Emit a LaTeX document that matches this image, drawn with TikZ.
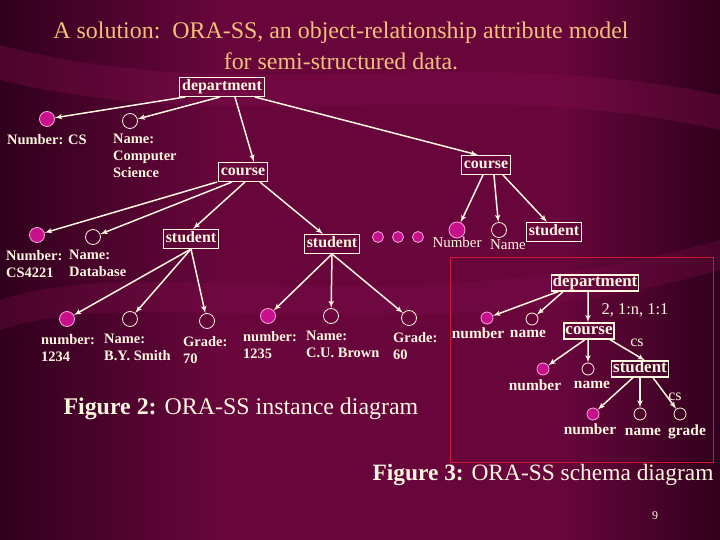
\documentclass[tikz,border=0pt]{standalone}
\usepackage{fontspec}
\setmainfont{Liberation Serif}
\usepackage{tikz}
\usetikzlibrary{arrows}
\definecolor{bgdark}{RGB}{48,0,28}
\definecolor{bgmain}{RGB}{104,6,60}
\definecolor{bgband}{RGB}{130,14,76}
\definecolor{linecol}{RGB}{255,246,224}
\definecolor{titlecol}{RGB}{242,192,122}
\definecolor{keycol}{RGB}{200,16,140}
\definecolor{pinkline}{RGB}{245,170,220}
\definecolor{framecol}{RGB}{205,25,45}

\begin{document}
\begin{tikzpicture}[x=1bp,y=-1bp]
\tikzset{box/.style = {draw=linecol,line width=1bp,inner xsep=2.5bp,inner ysep=1.5bp,text height=12bp,text depth=4bp,text=linecol,font=\bfseries\fontsize{16}{18}\selectfont}}
\tikzset{key/.style = {shape=circle,draw=pinkline,fill=keycol,line width=0.8bp,minimum size=15bp,inner sep=0pt}}
\tikzset{attr/.style = {shape=circle,draw=linecol,line width=0.8bp,minimum size=15bp,inner sep=0pt}}
\tikzset{lbl/.style = {text=linecol,inner sep=0pt,align=left,font=\bfseries\fontsize{14.5}{17}\selectfont}}
\tikzset{edge/.style = {->,> = latex',draw=linecol,line width=1.5bp}}
% background
\useasboundingbox (0,0) rectangle (720,540);
\fill[bgmain] (0,0) rectangle (720,540);
\fill[left color=bgdark,right color=bgmain] (0,0) rectangle (220,540);
\fill[left color=bgmain,right color=bgdark] (560,0) rectangle (720,540);
\fill[bgband,opacity=0.35] (0,45) .. controls (250,110) and (450,40) .. (720,95) -- (720,130) .. controls (450,70) and (250,140) .. (0,80) -- cycle;
\fill[bgband,opacity=0.3] (0,300) .. controls (150,250) and (400,330) .. (720,240) -- (720,270) .. controls (400,360) and (150,280) .. (0,330) -- cycle;
% title
\node[text=titlecol,align=center,font=\fontsize{24}{31}\selectfont] (title) at (341,46) {A solution:\ \ ORA-SS, an object-relationship attribute model\\for semi-structured data.};
% figure 2 vertices
\node[box] (dept) at (222,87) {department};
\node[key] (numCS) at (47,119) {};
\node[attr] (nameCS) at (130,121) {};
\node[lbl,anchor=west] (lnumCS) at (7,140) {Number: CS};
\node[lbl,anchor=north west] (lnameCS) at (113,134) {Name:\\Computer\\Science};
\node[box] (course1) at (243,172) {course};
\node[box] (course2) at (486,165) {course};
\node[key] (num4221) at (37,235) {};
\node[attr] (name4221) at (93,237) {};
\node[lbl,anchor=north west] (lnum4221) at (6,250) {Number:\\CS4221};
\node[lbl,anchor=north west] (lname4221) at (69,250) {Name:\\Database};
\node[box] (stud1) at (191,239) {student};
\node[box] (stud2) at (332,244) {student};
\node[key] (num1234) at (67,319) {};
\node[attr] (name1234) at (130,319) {};
\node[attr] (grade1234) at (207,321) {};
\node[lbl,anchor=north west] (lnum1234) at (41,334) {number:\\1234};
\node[lbl,anchor=north west] (lname1234) at (104,334) {Name:\\B.Y. Smith};
\node[lbl,anchor=north west] (lgrade1234) at (183,336) {Grade:\\70};
\node[key] (num1235) at (268,316) {};
\node[attr] (name1235) at (331,316) {};
\node[attr] (grade1235) at (409,318) {};
\node[lbl,anchor=north west] (lnum1235) at (243,331) {number:\\1235};
\node[lbl,anchor=north west] (lname1235) at (306,331) {Name:\\C.U. Brown};
\node[lbl,anchor=north west] (lgrade1235) at (393,332) {Grade:\\60};
\foreach \i/\x in {1/378,2/398,3/418}
  \node[key,minimum size=11bp] (dot\i) at (\x,237) {};
\node[key,minimum size=16bp] (numC2) at (457,230) {};
\node[attr] (nameC2) at (499,230) {};
\node[lbl,font=\fontsize{15}{17}\selectfont,anchor=north] (lnumC2) at (457,237) {Number};
\node[lbl,font=\fontsize{15}{17}\selectfont,anchor=north] (lnameC2) at (508,240) {Name};
\node[box] (stud3) at (554,232) {student};
\node[text=linecol,anchor=west,font=\fontsize{24}{28}\selectfont] (cap2) at (60,409) {\textbf{Figure 2:} ORA-SS instance diagram};
% figure 2 edges
\draw[edge] ([xshift=-37]dept.south) to (numCS);
\draw[edge] ([xshift=-2]dept.south) to (nameCS);
\draw[edge] ([xshift=13]dept.south) to ([xshift=11]course1.north);
\draw[edge] ([xshift=33]dept.south) to ([xshift=-8]course2.north);
\draw[edge] ([xshift=-26]course1.south) to (num4221);
\draw[edge] ([xshift=-11]course1.south) to (name4221);
\draw[edge] ([xshift=2]course1.south) to ([xshift=2]stud1.north);
\draw[edge] ([xshift=17]course1.south) to ([xshift=-9]stud2.north);
\draw[edge] (stud1.south) to (num1234);
\draw[edge] (stud1.south) to (name1234);
\draw[edge] (stud1.south) to (grade1234);
\draw[edge] (stud2.south) to (num1235);
\draw[edge] (stud2.south) to (name1235);
\draw[edge] (stud2.south) to (grade1235);
\draw[edge] ([xshift=-3]course2.south) to (numC2);
\draw[edge] ([xshift=8]course2.south) to (nameC2);
\draw[edge] ([xshift=17]course2.south) to ([xshift=-7]stud3.north);
% figure 3 vertices
\draw[framecol,line width=1bp] (450,258) rectangle (713,462);
\tikzset{sbox/.style = {box,line width=1.2bp,inner xsep=1.5bp,inner ysep=0.75bp,text height=11bp,text depth=3.5bp,font=\bfseries\fontsize{17}{18}\selectfont}}
\tikzset{slbl/.style = {lbl,font=\bfseries\fontsize{15.5}{17}\selectfont}}
\node[sbox] (sdept) at (595,283) {department};
\node[key,minimum size=12bp] (skey1) at (487,318) {};
\node[attr,minimum size=12bp] (sname1) at (532,319) {};
\node[slbl] (lskey1) at (478,333) {number};
\node[slbl] (lsname1) at (528,334) {name};
\node[sbox] (scourse) at (589,331) {course};
\node[lbl,font=\fontsize{16.5}{18}\selectfont] (card) at (635,310) {2, 1:n, 1:1};
\node[key,minimum size=12bp] (skey2) at (543,369) {};
\node[attr,minimum size=12bp] (sname2) at (588,369) {};
\node[slbl] (lskey2) at (535,385) {number};
\node[slbl] (lsname2) at (592,385) {name};
\node[sbox] (sstud) at (640,369) {student};
\node[lbl,font=\fontsize{16}{18}\selectfont] (cs1) at (637,343) {cs};
\node[key,minimum size=12bp] (skey3) at (593,414) {};
\node[attr,minimum size=12bp] (sname3) at (640,414) {};
\node[attr,minimum size=12bp] (sgrade3) at (680,414) {};
\node[slbl] (lskey3) at (590,429) {number};
\node[slbl] (lsname3) at (643,432) {name};
\node[slbl] (lsgrade3) at (687,432) {grade};
\node[lbl,font=\fontsize{16}{18}\selectfont] (cs2) at (675,397) {cs};
\node[text=linecol,anchor=west,font=\fontsize{23.5}{28}\selectfont] (cap3) at (369,475) {\textbf{Figure 3:} ORA-SS schema diagram};
\node[text=linecol,font=\fontsize{12}{14}\selectfont] (page) at (655,516) {9};
% figure 3 edges
\draw[edge] ([xshift=-37]sdept.south) to (skey1);
\draw[edge] ([xshift=-32]sdept.south) to (sname1);
\draw[edge] ([xshift=-7]sdept.south) to ([xshift=-1]scourse.north);
\draw[edge] ([xshift=-4]scourse.south) to (skey2);
\draw[edge] ([xshift=-1]scourse.south) to (sname2);
\draw[edge] ([xshift=21]scourse.south) to ([xshift=5]sstud.north);
\draw[edge] ([xshift=-7]sstud.south) to (skey3);
\draw[edge] (sstud.south) to (sname3);
\draw[edge] ([xshift=13]sstud.south) to (sgrade3);
\end{tikzpicture}
\end{document}
